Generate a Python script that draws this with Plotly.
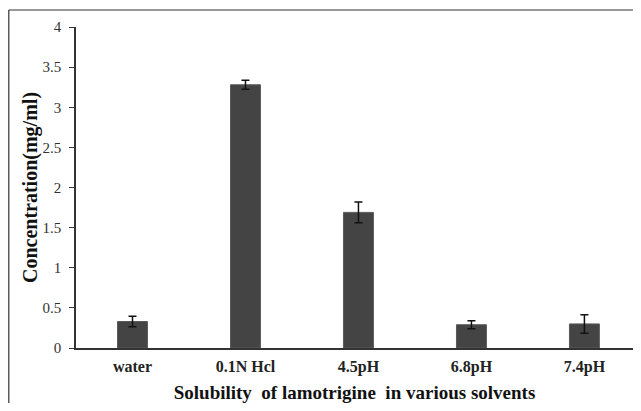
import plotly.graph_objects as go

categories = ["water", "0.1N Hcl", "4.5pH", "6.8pH", "7.4pH"]
concentration = [0.33, 3.28, 1.69, 0.29, 0.30]
error = [0.065, 0.055, 0.13, 0.05, 0.115]
y_ticks = [0, 0.5, 1, 1.5, 2, 2.5, 3, 3.5, 4]

# page has an 8px body margin, so the figure is shrunk to fit the window
W, H = 625, 395
L, R, T, B = 68, 0, 19, 55
pw, ph = W - L - R, H - T - B

fig = go.Figure()
fig.add_trace(go.Bar(
    x=categories, y=concentration,
    width=0.265,
    marker=dict(color="#444444", line=dict(color="#5a5a5a", width=1)),
    error_y=dict(type="data", array=error, visible=True, color="#111111",
                 thickness=1.5, width=4),
))

font_family = "Liberation Serif, Times New Roman, serif"
fig.update_layout(
    width=W, height=H,
    margin=dict(l=L, r=R, t=T, b=B, autoexpand=False),
    plot_bgcolor="white", paper_bgcolor="white",
    showlegend=False,
    font=dict(family=font_family, color="#222222"),
    xaxis=dict(
        range=[-0.5, 4.43], automargin=False,
        showline=True, linecolor="#333333", linewidth=1.5,
        ticks="", showgrid=False,
        ticklabelstandoff=3,
        tickfont=dict(family=font_family, size=16, color="#222222", weight="bold"),
        title=dict(text="Solubility\u00a0 of lamotrigine\u00a0 in various solvents",
                   font=dict(family=font_family, size=19, color="#111111", weight="bold"),
                   standoff=14),
    ),
    yaxis=dict(
        range=[0, 4], automargin=False,
        tickvals=y_ticks,
        ticktext=[f"{v:g}" for v in y_ticks],
        showline=True, linecolor="#333333", linewidth=1.5,
        ticks="outside", ticklen=5, tickcolor="#333333",
        ticklabelstandoff=5,
        showgrid=False, zeroline=False,
        tickfont=dict(family=font_family, size=15, color="#333333"),
        title=dict(text="Concentration(mg/ml)",
                   font=dict(family=font_family, size=20, color="#111111", weight="bold"),
                   standoff=0),
    ),
)

# outer frame (left and top edges of the figure box)
x_left = (0.8 - L) / pw
y_top = 1 + (T - 2) / ph
fig.add_shape(type="line", xref="paper", yref="paper",
              x0=x_left, x1=x_left, y0=y_top, y1=-(B) / ph - 0.02,
              line=dict(color="#333333", width=1.2))
fig.add_shape(type="line", xref="paper", yref="paper",
              x0=x_left, x1=1.02, y0=y_top, y1=y_top,
              line=dict(color="#333333", width=1.2))

fig.write_html("out.html")
